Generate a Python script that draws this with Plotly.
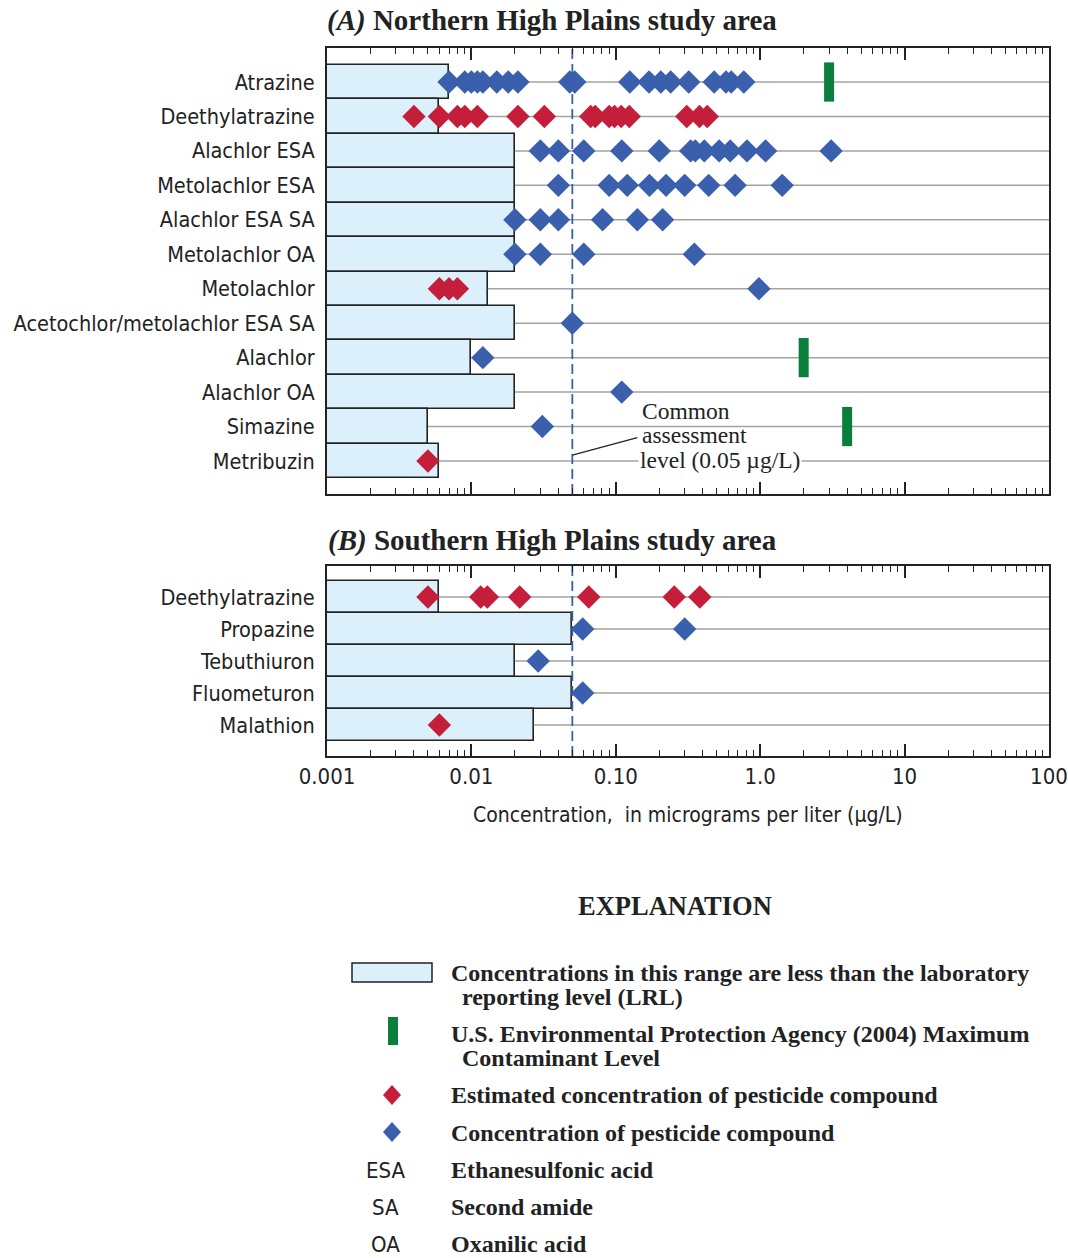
import plotly.graph_objects as go

W, H = 1068, 1258
LOW, HIGH = 0.001, 100

# ---------------- data: (A) Northern High Plains ----------------
compounds_a = ["Atrazine", "Deethylatrazine", "Alachlor ESA", "Metolachlor ESA",
               "Alachlor ESA SA", "Metolachlor OA", "Metolachlor",
               "Acetochlor/metolachlor ESA SA", "Alachlor", "Alachlor OA",
               "Simazine", "Metribuzin"]
lrl_a = [0.007, 0.006, 0.02, 0.02, 0.02, 0.02, 0.013, 0.02, 0.01, 0.02, 0.005, 0.006]
measured_a = [
    [0.007, 0.009, 0.010, 0.011, 0.012, 0.015, 0.018, 0.021, 0.048, 0.052,
     0.125, 0.17, 0.205, 0.24, 0.32, 0.48, 0.58, 0.63, 0.77],
    [],
    [0.030, 0.040, 0.060, 0.110, 0.20, 0.33, 0.355, 0.41, 0.52, 0.62, 0.81, 1.09, 3.1],
    [0.040, 0.090, 0.120, 0.171, 0.223, 0.30, 0.44, 0.67, 1.42],
    [0.020, 0.030, 0.040, 0.081, 0.141, 0.211],
    [0.020, 0.030, 0.060, 0.35],
    [0.98],
    [0.050],
    [0.012],
    [0.110],
    [0.031],
    [],
]
estimated_a = [
    [],
    [0.004, 0.006, 0.008, 0.009, 0.011, 0.021, 0.032, 0.067, 0.072, 0.090,
     0.098, 0.109, 0.124, 0.31, 0.38, 0.43],
    [], [], [], [],
    [0.006, 0.007, 0.008],
    [], [], [], [],
    [0.005],
]
mcl_compounds_a = ["Atrazine", "Alachlor", "Simazine"]
mcl_a = [3, 2, 4]

# ---------------- data: (B) Southern High Plains ----------------
compounds_b = ["Deethylatrazine", "Propazine", "Tebuthiuron", "Fluometuron", "Malathion"]
lrl_b = [0.006, 0.05, 0.02, 0.05, 0.027]
measured_b = [[], [0.059, 0.30], [0.029], [0.059], []]
estimated_b = [[0.005, 0.0116, 0.0129, 0.0216, 0.065, 0.254, 0.382], [], [], [], [0.006]]

assessment_level = 0.05
major_ticks = [0.001, 0.01, 0.1, 1, 10, 100]
major_labels = ["0.001", "0.01", "0.10", "1.0", "10", "100"]

# ---------------- styles ----------------
BLUE = "#3a5fad"
RED = "#c41e3a"
GREEN = "#0a7f3c"
FILL = "#dbf0fa"
EDGE = "#222222"
GRAYLINE = "#a3a3a3"
SANS = "Liberation Sans Narrow, DejaVu Sans Condensed, Arial Narrow, sans-serif"
SERIF = "Liberation Serif, Times New Roman, serif"


def px(x):
    return x / W


def py(y):
    return 1 - y / H


fig = go.Figure()
minor_vals = [m * 10 ** e for e in range(-3, 2) for m in range(2, 10)]


def add_panel(compounds, lrl, measured, estimated, mcl_names, mcl_vals, xa, ya, yrange):
    rows = list(range(len(compounds)))
    # row guide lines from LRL to right edge
    for r, v in zip(rows, lrl):
        fig.add_trace(go.Scatter(x=[v, HIGH], y=[r, r], mode="lines",
                                 line=dict(color=GRAYLINE, width=1.5),
                                 hoverinfo="skip", showlegend=False, xaxis=xa, yaxis=ya))
    # LRL bars
    fig.add_trace(go.Bar(x=[v - LOW for v in lrl], y=rows, base=[LOW] * len(rows),
                         orientation="h", width=1,
                         marker=dict(color=FILL, line=dict(color=EDGE, width=1.6)),
                         showlegend=False, xaxis=xa, yaxis=ya, hoverinfo="skip"))
    # assessment level dashed line
    fig.add_trace(go.Scatter(x=[assessment_level, assessment_level], y=list(yrange),
                             mode="lines", line=dict(color=BLUE, width=1.8, dash="10px,5px"),
                             hoverinfo="skip", showlegend=False, xaxis=xa, yaxis=ya))
    # estimated (red) diamonds
    ex, ey = [], []
    for r, vals in zip(rows, estimated):
        ex += vals
        ey += [r] * len(vals)
    fig.add_trace(go.Scatter(x=ex, y=ey, mode="markers",
                             marker=dict(symbol="diamond", size=18, color=RED),
                             showlegend=False, xaxis=xa, yaxis=ya))
    # measured (blue) diamonds
    mx, my = [], []
    for r, vals in zip(rows, measured):
        mx += vals
        my += [r] * len(vals)
    fig.add_trace(go.Scatter(x=mx, y=my, mode="markers",
                             marker=dict(symbol="diamond", size=18, color=BLUE),
                             showlegend=False, xaxis=xa, yaxis=ya))
    # MCL green bars
    if mcl_names:
        fig.add_trace(go.Scatter(x=mcl_vals, y=[compounds.index(n) for n in mcl_names],
                                 mode="markers",
                                 marker=dict(symbol="line-ns", size=28,
                                             line=dict(color=GREEN, width=10)),
                                 showlegend=False, xaxis=xa, yaxis=ya))


yr_a = (11.958, -0.987)
yr_b = (4.97, -0.97)
add_panel(compounds_a, lrl_a, measured_a, estimated_a, mcl_compounds_a, mcl_a, "x", "y", yr_a)
add_panel(compounds_b, lrl_b, measured_b, estimated_b, [], [], "x2", "y2", yr_b)

# leader line for the assessment-level note
fig.add_trace(go.Scatter(x=[assessment_level, 0.141], y=[10.83, 10.32], mode="lines",
                         line=dict(color=EDGE, width=1.2), hoverinfo="skip",
                         showlegend=False, xaxis="x", yaxis="y"))

xcommon = dict(type="log", range=[-3, 2], domain=[px(327), px(1049)], automargin=False,
               tickmode="array", tickvals=major_ticks, ticktext=major_labels,
               ticks="inside", ticklen=12, tickwidth=1.5, tickcolor=EDGE,
               showline=True, linecolor=EDGE, linewidth=2, mirror="allticks",
               showgrid=False, zeroline=False, fixedrange=True,
               minor=dict(tickmode="array", tickvals=minor_vals, ticks="inside",
                          ticklen=6, tickwidth=1.2, tickcolor=EDGE, showgrid=False))
ycommon = dict(showline=True, linecolor=EDGE, linewidth=2, mirror=True, ticks="",
               showgrid=False, zeroline=False, fixedrange=True, automargin=False,
               tickfont=dict(family=SANS, size=21.5, color=EDGE), ticklabelstandoff=6)

fig.update_layout(
    width=W, height=H, margin=dict(l=0, r=0, t=0, b=0, autoexpand=False),
    paper_bgcolor="white", plot_bgcolor="white", bargap=0,
    xaxis=dict(xcommon, anchor="y", showticklabels=False),
    yaxis=dict(ycommon, anchor="x", domain=[py(494), py(48)], range=list(yr_a),
               tickmode="array", tickvals=list(range(len(compounds_a))), ticktext=compounds_a),
    xaxis2=dict(xcommon, anchor="y2", showticklabels=True,
                tickfont=dict(family=SANS, size=22, color=EDGE)),
    yaxis2=dict(ycommon, anchor="x2", domain=[py(756), py(566)], range=list(yr_b),
                tickmode="array", tickvals=list(range(len(compounds_b))), ticktext=compounds_b),
)

ann = []


def text(x, y, s, font, size, xanchor="left", bg=None):
    d = dict(x=px(x), y=py(y), xref="paper", yref="paper", text=s, showarrow=False,
             xanchor=xanchor, yanchor="middle", align="left",
             font=dict(family=font, size=size, color=EDGE))
    if bg:
        d["bgcolor"] = bg
    ann.append(d)


text(552, 21, "<b><i>(A)</i> Northern High Plains study area</b>", SERIF, 29, "center")
text(552, 540, "<b><i>(B)</i> Southern High Plains study area</b>", SERIF, 29, "center")
text(640, 411, "Common", SERIF, 23.5)
text(640, 435, "assessment", SERIF, 23.5)
text(638, 460, "level (0.05 µg/L)", SERIF, 23.5, bg="white")
text(688, 815, "Concentration,  in micrograms per liter (µg/L)", SANS, 21, "center")

# ---------------- explanation ----------------
text(675, 906, "<b>EXPLANATION</b>", SERIF, 26.5, "center")
text(449, 973, "<b>Concentrations in this range are less than the laboratory</b>", SERIF, 24)
text(460, 997, "<b>reporting level (LRL)</b>", SERIF, 24)
text(449, 1034, "<b>U.S. Environmental Protection Agency (2004) Maximum</b>", SERIF, 24)
text(460, 1058, "<b>Contaminant Level</b>", SERIF, 24)
text(449, 1095, "<b>Estimated concentration of pesticide compound</b>", SERIF, 24)
text(449, 1133, "<b>Concentration of pesticide compound</b>", SERIF, 24)
for y, ab, full in [(1170, "ESA", "Ethanesulfonic acid"), (1207, "SA", "Second amide"),
                    (1244, "OA", "Oxanilic acid")]:
    text(385, y, ab, SANS, 22, "center")
    text(449, y, "<b>" + full + "</b>", SERIF, 24)

shapes = [
    dict(type="rect", xref="paper", yref="paper", x0=px(352), x1=px(432), y0=py(982), y1=py(963),
         fillcolor=FILL, line=dict(color=EDGE, width=1.5)),
    dict(type="rect", xref="paper", yref="paper", x0=px(388), x1=px(398), y0=py(1045), y1=py(1017),
         fillcolor=GREEN, line=dict(width=0)),
]


def diamond(cx, cy, color):
    hw, hh = 9, 10
    path = (f"M {px(cx - hw)},{py(cy)} L {px(cx)},{py(cy - hh)} "
            f"L {px(cx + hw)},{py(cy)} L {px(cx)},{py(cy + hh)} Z")
    return dict(type="path", xref="paper", yref="paper", path=path,
                fillcolor=color, line=dict(width=0))


shapes.append(diamond(392, 1095, RED))
shapes.append(diamond(392, 1132, BLUE))

fig.update_layout(annotations=ann, shapes=shapes)

fig.write_html("out.html", config={"displayModeBar": False},
               post_script="document.body.style.margin='0';document.body.style.overflow='hidden';")
